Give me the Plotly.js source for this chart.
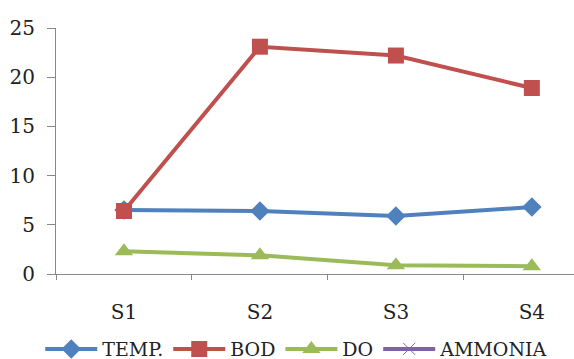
<!DOCTYPE html>
<html><head><meta charset="utf-8">
<script src="https://cdn.plot.ly/plotly-3.0.1.min.js"></script>
<style>html,body{margin:0;padding:0;background:#fff}#chart{width:574px;height:359px}</style>
</head><body><div id="chart"></div>
<script>
const categories = ["S1", "S2", "S3", "S4"];
const temp = [6.5, 6.4, 5.9, 6.8];
const bod = [6.4, 23.1, 22.2, 18.9];
const dissolvedOxygen = [2.3, 1.9, 0.9, 0.8];
const ammonia = [null, null, null, null];
const seriesNames = ["TEMP.", "BOD", "DO", "AMMONIA"];
const yTicks = [0, 5, 10, 15, 20, 25];

const serif = "DejaVu Serif";
function tr(name, y, color, symbol, size) {
  return {x: categories, y: y, name: name, type: "scatter", mode: "lines+markers",
    line: {color: color, width: 4}, marker: {symbol: symbol, size: size, color: color},
    cliponaxis: false};
}
const data = [
  tr(seriesNames[0], temp, "#4F81BD", "diamond", 15),
  tr(seriesNames[1], bod, "#C0504D", "square", 16),
  tr(seriesNames[2], dissolvedOxygen, "#9BBB59", "triangle-up", 16),
  tr(seriesNames[3], ammonia, "#8064A2", "x-thin-open", 12)
];
const layout = {
  width: 574, height: 359,
  margin: {l: 56, r: 0, t: 28, b: 85, autoexpand: false},
  paper_bgcolor: "#fff", plot_bgcolor: "#fff",
  font: {family: serif, size: 20, color: "#222"},
  showlegend: true,
  legend: {orientation: "h", xref: "container", x: 0.517, xanchor: "center",
    y: -0.305, yanchor: "middle",
    font: {family: serif, size: 19, color: "#222"}, itemwidth: 52, tracegroupgap: 0},
  xaxis: {range: [-0.5, 3.31], showgrid: false, showline: true, linecolor: "#888", linewidth: 1,
    ticks: "outside", tickson: "boundaries", ticklen: 5, tickcolor: "#888",
    tickfont: {family: serif, size: 20, color: "#222"},
    ticklabelstandoff: 20, zeroline: false, fixedrange: true},
  yaxis: {range: [0, 25], tickvals: yTicks, showgrid: false, showline: true, linecolor: "#888",
    tickfont: {family: serif, size: 20, color: "#222"},
    linewidth: 1, ticks: "outside", ticklen: 8, tickcolor: "#888", ticklabelstandoff: 8,
    zeroline: false, fixedrange: true}
};
Plotly.newPlot("chart", data, layout, {displayModeBar: false, staticPlot: true});
</script></body></html>
